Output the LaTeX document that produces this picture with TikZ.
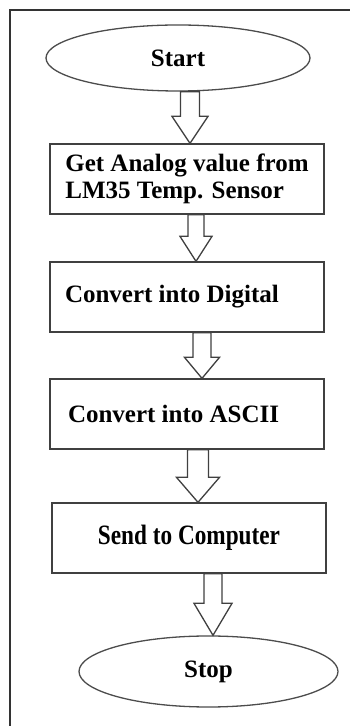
\documentclass[tikz,border=0pt]{standalone}
\usepackage{fontspec}
\setmainfont{Liberation Serif}
\newfontfamily\narrowfont{Liberation Serif}[FakeStretch=0.83]
\usetikzlibrary{shapes.geometric,calc}

\begin{document}
\begin{tikzpicture}[x=1pt,y=1pt,line width=1.3pt,
	every node/.style={font=\fontsize{25}{27}\selectfont\bfseries},
	endpoint/.style={ellipse,draw=black!70,inner sep=0pt},
	stepbox/.style={rectangle,draw=black!75,minimum width=274pt,minimum height=70pt,inner sep=0pt},
	arrowbody/.style={draw=black!75,fill=white,line join=miter}]
	\useasboundingbox (0,0) rectangle (350,726);
	% frame
	\draw[black!80,line width=2pt] (352,716) -- (10,716) -- (10,-2);
	% flow
	\node[endpoint,minimum width=264pt,minimum height=66pt] (start) at (178,668) {Start};
	\node[stepbox,align=left] (analog) at (187,547) {Get Analog value from\\LM35 Temp. Sensor};
	\node[stepbox,text width=244pt,align=flush left] (digital) at (187,429) {Convert into Digital};
	\node[stepbox,text width=238pt,align=flush left] (ascii) at (187,312) {Convert into ASCII};
	\node[stepbox,font=\narrowfont\fontsize{28}{30}\selectfont\bfseries] (send) at (189,188) {Send to Computer};
	\node[endpoint,minimum width=259pt,minimum height=71pt] (stop) at (208.5,54.5) {Stop};
	% block arrows: from/to/centre/shaft/head/head length
	\foreach \a/\b/\c/\s/\h/\l in {start/analog/190/9.5/18/27,
		analog/digital/196/8/16/25,
		digital/ascii/202/9/17.5/21,
		ascii/send/198/10.5/21.5/25,
		send/stop/213/9/19/32}
	\draw[arrowbody] let \p1=(\a.south), \p2=(\b.north) in
		({(\c-\s)*1pt},\y1) -- ({(\c-\s)*1pt},{\y2+\l*1pt}) -- ({(\c-\h)*1pt},{\y2+\l*1pt})
		-- ({\c*1pt},\y2) -- ({(\c+\h)*1pt},{\y2+\l*1pt}) -- ({(\c+\s)*1pt},{\y2+\l*1pt})
		-- ({(\c+\s)*1pt},\y1) -- cycle;
\end{tikzpicture}
\end{document}
